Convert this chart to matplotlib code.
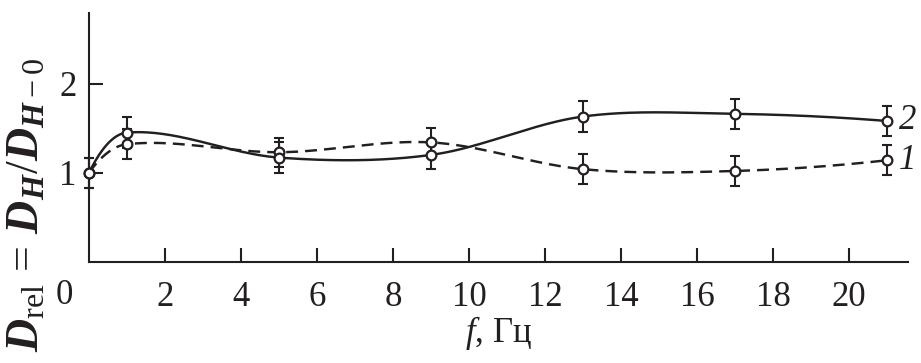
import numpy as np
import matplotlib
matplotlib.use("Agg")
import matplotlib.pyplot as plt

plt.rcParams['font.family'] = ['Liberation Serif', 'DejaVu Serif']
plt.rcParams['mathtext.fontset'] = 'custom'
plt.rcParams['mathtext.rm'] = 'Liberation Serif'
plt.rcParams['mathtext.it'] = 'Liberation Serif:italic'
plt.rcParams['mathtext.bf'] = 'Liberation Serif:bold:italic'

# ---- data ----
freq = [0, 1, 5, 9, 13, 17, 21]
series1 = [1.00, 1.32, 1.23, 1.34, 1.04, 1.02, 1.14]   # curve 1 (dashed)
err1 = [0.17, 0.17, 0.16, 0.16, 0.17, 0.17, 0.17]
series2 = [1.00, 1.45, 1.17, 1.20, 1.63, 1.66, 1.58]   # curve 2 (solid)
err2 = [0.17, 0.17, 0.17, 0.16, 0.17, 0.17, 0.17]
xticks = [2, 4, 6, 8, 10, 12, 14, 16, 18, 20]
yticks = [1, 2]

INK = '#231f20'


def smooth_curve(x, y, n=60):
    """Cubic Hermite curve through the data points (finite-difference tangents)."""
    x = np.asarray(x, float)
    y = np.asarray(y, float)
    k = len(x)
    m = np.zeros(k)
    for i in range(1, k - 1):
        m[i] = (y[i + 1] - y[i - 1]) / (x[i + 1] - x[i - 1])
    m[0] = 2 * (y[1] - y[0]) / (x[1] - x[0]) - m[1]
    m[-1] = 2 * (y[-1] - y[-2]) / (x[-1] - x[-2]) - m[-2]
    xs_all, ys_all = [], []
    for i in range(k - 1):
        h = x[i + 1] - x[i]
        t = np.linspace(0, 1, n)
        h00 = 2 * t**3 - 3 * t**2 + 1
        h10 = t**3 - 2 * t**2 + t
        h01 = -2 * t**3 + 3 * t**2
        h11 = t**3 - t**2
        xs_all.append(x[i] + t * h)
        ys_all.append(h00 * y[i] + h10 * h * m[i] + h01 * y[i + 1] + h11 * h * m[i + 1])
    return np.concatenate(xs_all), np.concatenate(ys_all)


fig = plt.figure(figsize=(9.21, 3.63), dpi=100)
ax = fig.add_axes([89 / 921, 1 - 262 / 363, 819 / 921, 249 / 363])

lw = 1.75
for yv, err, ls in [(series1, err1, (0, (4.9, 2.9))), (series2, err2, '-')]:
    xs, ys = smooth_curve(freq, yv)
    ax.plot(xs, ys, color=INK, lw=lw, linestyle=ls, zorder=2, clip_on=False)
    ax.errorbar(freq, yv, yerr=err, fmt='none', ecolor=INK, elinewidth=1.5,
                capsize=3.3, capthick=1.5, zorder=3, clip_on=False)
    ax.plot(freq, yv, 'o', ms=7, mfc='white', mec=INK, mew=1.6, zorder=4,
            clip_on=False)

ax.set_xlim(0, 21.55)
ax.set_ylim(0, 2.79)
ax.set_xticks(xticks)
ax.set_xticklabels([str(t) for t in xticks])
ax.set_yticks(yticks)
ax.set_yticklabels([str(t) for t in yticks])

for s in ['top', 'right']:
    ax.spines[s].set_visible(False)
for s in ['left', 'bottom']:
    ax.spines[s].set_linewidth(1.5)
    ax.spines[s].set_color(INK)

ax.tick_params(axis='both', direction='in', length=10, width=1.5,
               colors=INK, labelsize=25)
ax.tick_params(axis='x', pad=14)
ax.tick_params(axis='y', pad=9)

ax.text(-0.03, -0.135, '0', transform=ax.transAxes, ha='center', va='center',
        fontsize=25, color=INK)

ax.text(21.3, series2[-1], '2', fontsize=25, style='italic', ha='left',
        va='center', color=INK)
ax.text(21.3, series1[-1], '1', fontsize=25, style='italic', ha='left',
        va='center', color=INK)

ax.set_xlabel('$f$, Гц', fontsize=25, color=INK, labelpad=0)

fig.text(27 / 921, 1 - 352 / 363,
         r'$\mathbf{D}_{\rm rel}\,=\,\mathbf{D}_{\mathbf{H}}/\mathbf{D}_{\mathbf{H}-0}$',
         rotation=90, ha='center', va='bottom', fontsize=33, color=INK)

fig.savefig('out.png', dpi=100)
